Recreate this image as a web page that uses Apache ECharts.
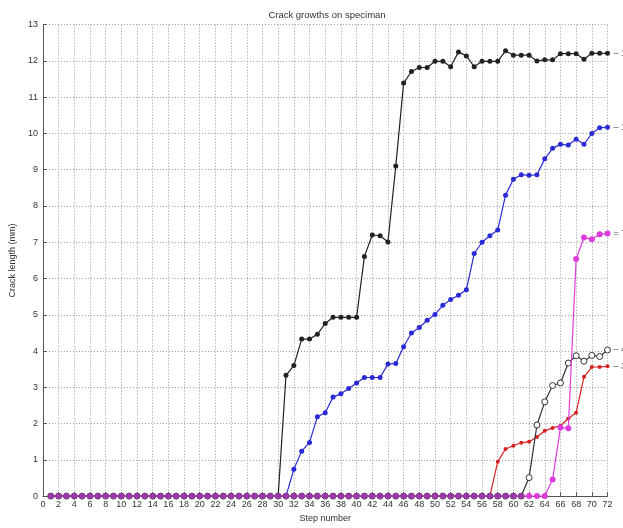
<!DOCTYPE html>
<html>
<head>
<meta charset="utf-8">
<script src="https://cdn.jsdelivr.net/npm/echarts@6/dist/echarts.min.js"></script>
<style>
  html, body { margin: 0; padding: 0; background: #fff; }
  #chart { width: 623px; height: 528px; }
</style>
</head>
<body>
<div id="chart"></div>
<script>
// Step numbers (x values)
const steps = [1,2,3,4,5,6,7,8,9,10,11,12,13,14,15,16,17,18,19,20,21,22,23,24,25,26,27,28,29,30,
  31,32,33,34,35,36,37,38,39,40,41,42,43,44,45,46,47,48,49,50,51,52,53,54,55,56,57,58,59,60,
  61,62,63,64,65,66,67,68,69,70,71,72];

// Crack lengths (mm) per step for each crack
const crackBlack = [0,0,0,0,0,0,0,0,0,0,0,0,0,0,0,0,0,0,0,0,0,0,0,0,0,0,0,0,0,0,
  3.33,3.6,4.33,4.33,4.46,4.76,4.93,4.93,4.93,4.93,
  6.61,7.2,7.18,7.01,9.1,11.39,11.71,11.82,11.82,11.99,
  11.99,11.84,12.25,12.14,11.84,11.99,11.99,11.99,12.28,12.16,
  12.16,12.16,12.0,12.03,12.03,12.2,12.2,12.2,12.05,12.21,
  12.21,12.21];

const crackBlue = [0,0,0,0,0,0,0,0,0,0,0,0,0,0,0,0,0,0,0,0,0,0,0,0,0,0,0,0,0,0,0,
  0.74,1.24,1.48,2.19,2.3,2.73,2.82,2.97,3.12,
  3.27,3.27,3.27,3.64,3.66,4.12,4.5,4.65,4.85,5.01,
  5.26,5.42,5.54,5.69,6.69,7.0,7.18,7.34,8.3,8.74,
  8.86,8.85,8.86,9.3,9.59,9.7,9.68,9.84,9.7,10.0,
  10.16,10.17];

const crackRed = [0,0,0,0,0,0,0,0,0,0,0,0,0,0,0,0,0,0,0,0,0,0,0,0,0,0,0,0,0,0,
  0,0,0,0,0,0,0,0,0,0,0,0,0,0,0,0,0,0,0,0,0,0,0,0,0,0,0,
  0.95,1.3,1.39,1.47,1.5,1.63,1.8,1.88,1.94,2.14,2.3,3.29,3.56,3.56,3.58];

const crackCircle = [0,0,0,0,0,0,0,0,0,0,0,0,0,0,0,0,0,0,0,0,0,0,0,0,0,0,0,0,0,0,
  0,0,0,0,0,0,0,0,0,0,0,0,0,0,0,0,0,0,0,0,0,0,0,0,0,0,0,0,0,0,0,
  0.51,1.96,2.6,3.05,3.12,3.67,3.87,3.72,3.88,3.85,4.03];

const crackMagenta = [0,0,0,0,0,0,0,0,0,0,0,0,0,0,0,0,0,0,0,0,0,0,0,0,0,0,0,0,0,0,
  0,0,0,0,0,0,0,0,0,0,0,0,0,0,0,0,0,0,0,0,0,0,0,0,0,0,0,0,0,0,0,0,0,0,
  0.46,1.89,1.87,6.54,7.13,7.08,7.22,7.24];

const pairs = ys => steps.map((s, i) => [s, ys[i]]);

const font = 'Liberation Sans, Arial, sans-serif';
const gridLine = { show: true, lineStyle: { color: '#9a9a9a', width: 1, type: [1, 2] } };

function line(name, ys, color, opts) {
  return Object.assign({
    name: name,
    type: 'line',
    data: pairs(ys),
    symbol: 'circle',
    symbolSize: 5,
    showSymbol: true,
    lineStyle: { color: color, width: 1.2 },
    itemStyle: { color: color },
    animation: false,
    endLabel: {
      show: true,
      distance: 6,
      color: '#555',
      fontSize: 9,
      fontFamily: font,
      formatter: p => '\u2013 ' + p.value[1].toFixed(1)
    }
  }, opts || {});
}

// Where the dark baseline of crack 4 still runs underneath, the zero markers read as purple
const magentaData = pairs(crackMagenta).map((p, i) =>
  (p[1] === 0 && crackCircle[i] === 0) ? { value: p, itemStyle: { color: '#9a38a8' } } : { value: p });

const chart = echarts.init(document.getElementById('chart'), null, { renderer: 'canvas' });
chart.setOption({
  backgroundColor: '#fff',
  title: {
    text: 'Crack growths on speciman',
    left: 322, textAlign: 'center', top: 5,
    textStyle: { fontSize: 9.5, fontWeight: 'normal', color: '#333', fontFamily: font }
  },
  grid: { left: 40.5, right: 15.5, top: 24.7, bottom: 27, containLabel: false },
  xAxis: {
    type: 'value', min: 0, max: 72, interval: 2,
    name: 'Step number', nameLocation: 'middle', nameGap: 15,
    nameTextStyle: { fontSize: 9, color: '#333', fontFamily: font },
    axisLine: { show: true, onZero: false, lineStyle: { color: '#555', width: 1 } },
    axisTick: { show: true, inside: true, length: 4, lineStyle: { color: '#555' } },
    axisLabel: { fontSize: 9, color: '#333', margin: 4, fontFamily: font, showMaxLabel: true, showMinLabel: true },
    splitLine: gridLine
  },
  yAxis: {
    type: 'value', min: 0, max: 13, interval: 1,
    name: 'Crack length (mm)', nameLocation: 'middle', nameGap: 20, nameRotate: 90,
    nameTextStyle: { fontSize: 9, color: '#333', fontFamily: font },
    axisLine: { show: true, lineStyle: { color: '#555', width: 1 } },
    axisTick: { show: true, inside: true, length: 4, lineStyle: { color: '#555' } },
    axisLabel: { fontSize: 9, color: '#333', margin: 5, fontFamily: font },
    splitLine: gridLine
  },
  series: [
    line('Crack 1', crackBlack, '#222222', { z: 2 }),
    line('Crack 2', crackBlue, '#2b2bd6', { z: 3 }),
    line('Crack 3', crackRed, '#d82222', { z: 4, symbolSize: 4 }),
    line('Crack 4', crackCircle, '#333333', {
      z: 5, symbol: 'circle', symbolSize: 6,
      itemStyle: { color: '#ffffff', borderColor: '#333333', borderWidth: 1 }
    }),
    line('Crack 5', crackMagenta, '#dd3cdd', {
      z: 6, symbolSize: 6,
      data: magentaData,
      endLabel: {
        show: true, distance: 6, color: '#555', fontSize: 9, fontFamily: font,
        formatter: p => '= ' + p.value[1].toFixed(1)
      }
    })
  ]
});
</script>
</body>
</html>
